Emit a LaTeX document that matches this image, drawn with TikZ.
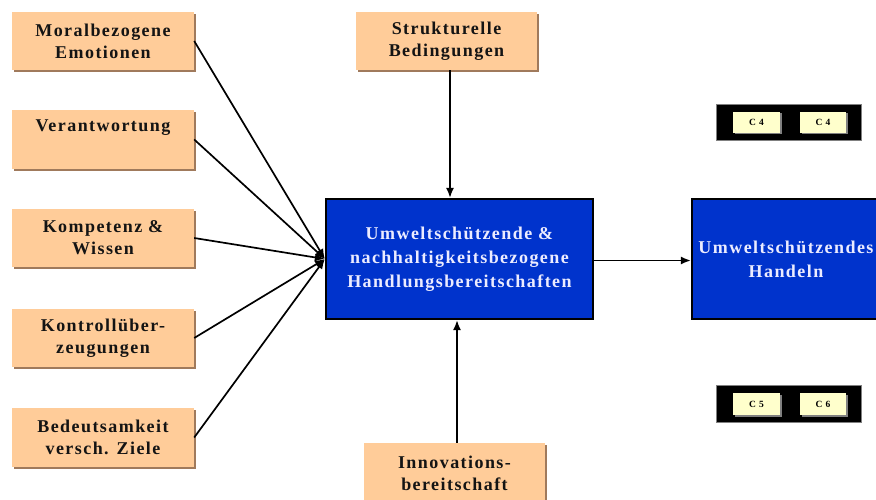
\documentclass[tikz,border=0pt]{standalone}
\usepackage{fontspec}
\setmainfont{Liberation Serif}
\newfontfamily\bxfont{Liberation Serif}[LetterSpace=8]
\newfontfamily\smallbxfont{Liberation Serif}[LetterSpace=35]
\usetikzlibrary{shadows,arrows.meta}
\definecolor{orangefill}{RGB}{255,204,153}
\definecolor{shadowbrown}{RGB}{160,122,92}
\definecolor{bluefill}{RGB}{0,51,204}
\definecolor{bluetext}{RGB}{236,236,255}
\definecolor{yellowfill}{RGB}{255,255,204}
\definecolor{darktext}{RGB}{20,20,20}
\begin{document}
\begin{tikzpicture}[x=1pt,y=-1pt,
  orangebox/.style={rectangle, fill=orangefill, minimum width=182pt, minimum height=58.5pt, inner sep=0pt,
    align=center, text=darktext, font=\bxfont\bfseries\fontsize{18}{22}\selectfont,
    drop shadow={shadow xshift=2pt, shadow yshift=-2pt, fill=shadowbrown, opacity=1}},
  bluebox/.style={rectangle, fill=bluefill, draw=black, line width=2.2pt, minimum height=120pt, inner sep=0pt,
    align=center, text=bluetext, font=\bxfont\bfseries\fontsize{18}{24}\selectfont},
  blackbox/.style={rectangle, fill=black, draw=gray, line width=0.8pt, minimum width=145pt, inner sep=0pt},
  ybox/.style={rectangle, fill=yellowfill, minimum width=47pt, minimum height=21pt, inner sep=0pt,
    font=\smallbxfont\bfseries\fontsize{9.5}{11}\selectfont,
    drop shadow={shadow xshift=1.5pt, shadow yshift=-1.5pt, fill=gray, opacity=1}},
  arr/.style={line width=1.7pt, -{Latex[length=10pt,width=8pt]}}
]
\useasboundingbox (0,0) rectangle (876,500);

% left boxes
\node[orangebox] (moral) at (103,41) {Moralbezogene\\Emotionen};
\node[orangebox] (verant) at (103,139.5) {Verantwortung\\\strut};
\node[orangebox] (kompet) at (103,238) {Kompetenz \&\\Wissen};
\node[orangebox] (kontroll) at (103,338) {Kontrollüber-\\zeugungen};
\node[orangebox] (bedeut) at (103,437.5) {Bedeutsamkeit\\versch. Ziele};

% top and bottom boxes
\node[orangebox, minimum width=181pt] (struk) at (446.5,41) {Strukturelle\\Bedingungen};
\node[orangebox, minimum width=181pt, minimum height=60pt] (innov) at (454.5,473) {Innovations-\\bereitschaft};

% blue boxes
\node[bluebox, minimum width=267pt] (bereit) at (459.5,259) {Umweltschützende \&\\nachhaltigkeitsbezogene\\Handlungsbereitschaften};
\node[bluebox, minimum width=188pt] (handeln) at (786,259) {Umweltschützendes\\Handeln};

% small black boxes
\node[blackbox, minimum height=36pt] (bk1) at (788.5,122) {};
\node[ybox] (c4a) at (756.5,122.5) {C4};
\node[ybox, minimum width=46pt] (c4b) at (823,122.5) {C4};
\node[blackbox, minimum height=37pt] (bk2) at (788.5,403.5) {};
\node[ybox, minimum height=22pt] (c5) at (756.5,404) {C5};
\node[ybox, minimum width=46pt, minimum height=22pt] (c6) at (823,404) {C6};

% connectors
\draw[arr] (moral.east) -- (bereit.west);
\draw[arr] (verant.east) -- (bereit.west);
\draw[arr] (kompet.east) -- (bereit.west);
\draw[arr] (kontroll.east) -- (bereit.west);
\draw[arr] (bedeut.east) -- (bereit.west);
\draw[arr] ([xshift=3.5pt]struk.south) -- ([xshift=3.5pt]struk.south |- bereit.north);
\draw[arr] ([xshift=2.5pt]innov.north) -- ([xshift=2.5pt]innov.north |- bereit.south);
\draw[arr] ([yshift=-1.5pt]bereit.east) -- ([yshift=-1.5pt]bereit.east -| handeln.west);
\end{tikzpicture}
\end{document}
